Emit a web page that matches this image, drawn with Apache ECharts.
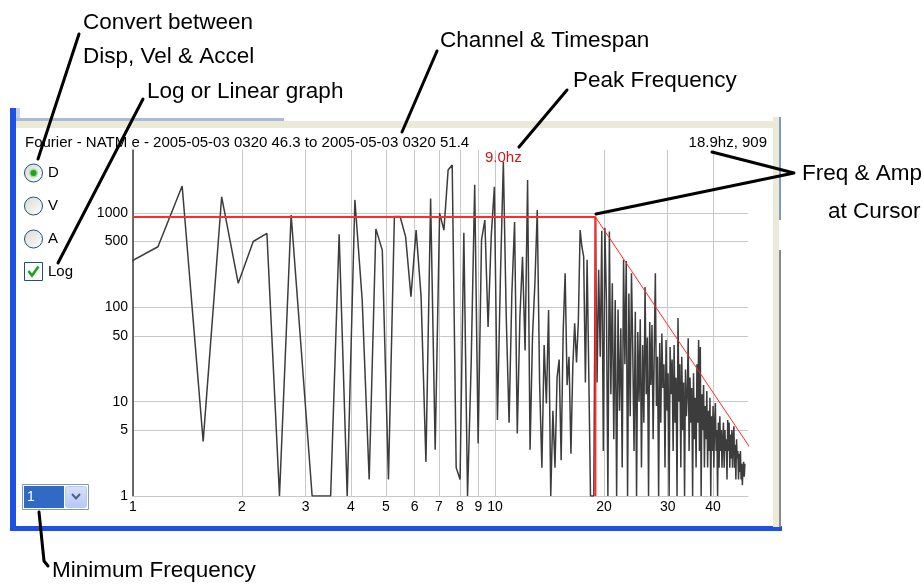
<!DOCTYPE html>
<html>
<head>
<meta charset="utf-8">
<script src="https://cdn.jsdelivr.net/npm/echarts@6/dist/echarts.min.js"></script>
<style>
  html, body { margin: 0; padding: 0; background: #fff; }
  #chart { width: 924px; height: 585px; }
</style>
</head>
<body>
<div id="chart"></div>
<script>
// spectrum bins: 5.12 s window -> 0.1953125 Hz per bin, first bin drawn is #5
const binWidth = 0.1953125;
const firstBin = 5;
const amplitudes = [
  300, 440, 1940, 3.8, 1490, 180, 500, 610, 1, 955,
  28, 1, 1, 1, 596, 1, 1380, 120, 1.5, 680,
  405, 1.5, 920, 920, 560, 130, 660, 130, 2.3, 1430,
  3.1, 1000, 660, 2860, 3240, 2, 1.5, 620, 1, 25,
  2000, 3.6, 520, 845, 62, 570, 1900, 6.4, 210, 3500,
  80, 6, 140, 805, 4.6, 80, 345, 35, 2240, 3.1,
  49, 180, 1080, 16, 2, 40, 9.6, 94, 1, 8,
  2, 18, 28, 2.4, 55, 230, 15, 30, 2.8, 24,
  68, 26, 70, 660, 440, 345, 16, 320, 19, 1,
  1, 1, 909,
  16, 250, 30, 650, 3, 700, 120, 1, 640, 12,
  180, 4, 120, 1, 95, 8, 60, 2, 320, 25,
  310, 1, 140, 7, 230, 35, 3, 90, 1, 55,
  10, 75, 2, 40, 6, 165, 12, 48, 1, 70,
  15, 65, 4, 35, 230, 9, 30, 1, 42, 6,
  53, 14, 25, 2, 45, 8, 20, 1, 38, 12,
  28, 3, 40, 6, 18, 1, 77, 10, 25, 2,
  30, 5, 16, 1, 22, 7, 12, 47, 3, 18,
  6, 14, 1, 20, 4, 11, 2, 25, 6, 45,
  3, 38, 1, 12, 5, 15, 2, 9, 4, 13,
  2, 8, 3, 11, 1, 7, 3, 9, 2, 6,
  9.7, 3, 5, 1, 6, 2, 7, 3, 5, 2,
  4, 6, 2, 5, 3, 4, 1.5, 6.4, 3, 6,
  2, 4.5, 2.5, 5, 2, 4, 5.5, 2, 3.5, 1.5,
  4, 2.5, 3, 1.5, 2.8, 1.8, 3, 1.5, 2.2, 1.3,
  2, 2.3, 1.6, 2.2
];
const xTicks = [1, 2, 3, 4, 5, 6, 7, 8, 9, 10, 20, 30, 40];
const yTicks = [1, 5, 10, 50, 100, 500, 1000];
const xMin = 1, xMax = 50;
const yMin = 1, yMax = 4670;

// cursor + roll-off line
const cursorFreq = 18.945;
const cursorAmp = 909;
const rolloffFreq = [18.945, 53.6];
const rolloffAmp = [909, 2.35];

const peakLabel = '9.0hz';
const titleText = 'Fourier - NATM e - 2005-05-03 0320 46.3 to 2005-05-03 0320 51.4';
const cursorText = cursorFreq.toFixed(1) + 'hz, ' + cursorAmp;

const lg = Math.log10;
const FONT = '"Liberation Sans", Arial, sans-serif';
const fmt = v => String(Math.round(Math.pow(10, v)));

const traceData = amplitudes.map((a, i) => [lg((firstBin + i) * binWidth), lg(a)]);
const cursorData = [[lg(xMin), lg(cursorAmp)], [lg(cursorFreq), lg(cursorAmp)], [lg(cursorFreq), lg(yMin)]];
const rolloffData = rolloffFreq.map((f, i) => [lg(f), lg(rolloffAmp[i])]);

function txt(x, y, text, size, extra) {
  return { type: 'text', x: x, y: y, z: 50,
    style: Object.assign({ text: text, fontSize: size, fontFamily: FONT, fill: '#000',
      align: 'left', verticalAlign: 'middle' }, extra || {}) };
}
function lead(pts) {
  return { type: 'polyline', z: 100, shape: { points: pts },
    style: { stroke: '#000', lineWidth: 3, lineCap: 'round', lineJoin: 'round', fill: null } };
}
function radio(cy, checked) {
  const els = [{ type: 'circle', z: 40, shape: { cx: 33.5, cy: cy, r: 9 },
    style: { stroke: '#1c5180', lineWidth: 1,
      fill: new echarts.graphic.LinearGradient(0, 0, 1, 1, [
        { offset: 0, color: '#d8d8d2' }, { offset: 1, color: '#ffffff' }]) } }];
  if (checked) {
    els.push({ type: 'circle', z: 41, shape: { cx: 33.5, cy: cy, r: 4.5 }, style: { fill: '#9ee09e' } });
    els.push({ type: 'circle', z: 42, shape: { cx: 33.5, cy: cy, r: 3 }, style: { fill: '#21a121' } });
  }
  return els;
}

const graphics = [
  // window frame
  { type: 'rect', z: 1, shape: { x: 10, y: 108, width: 6, height: 423 }, style: { fill: '#1f50e6' } },
  { type: 'rect', z: 1, shape: { x: 10, y: 526, width: 772, height: 5 }, style: { fill: '#1f50e6' } },
  { type: 'rect', z: 1, shape: { x: 16, y: 108, width: 4, height: 14 }, style: { fill: '#c9d2e2' } },
  { type: 'rect', z: 1, shape: { x: 16, y: 118, width: 268, height: 3 }, style: { fill: '#a9bcd6' } },
  { type: 'rect', z: 1, shape: { x: 16, y: 121, width: 760, height: 7 }, style: { fill: '#ece9d8' } },
  { type: 'rect', z: 1, shape: { x: 773, y: 117, width: 6, height: 410 }, style: { fill: '#ece9d8' } },
  { type: 'rect', z: 1, shape: { x: 779, y: 117, width: 2, height: 103 }, style: { fill: '#7f9db9' } },
  { type: 'rect', z: 1, shape: { x: 779, y: 250, width: 2, height: 277 }, style: { fill: '#8a8a8a' } },

  // texts inside the panel
  txt(25, 143, titleText, 15),
  txt(767, 143, cursorText, 15, { align: 'right' }),

  // D / V / A radios and Log checkbox
  ...radio(173, true), ...radio(206, false), ...radio(239, false),
  txt(48, 173, 'D', 15), txt(48, 206, 'V', 15), txt(48, 239, 'A', 15),
  { type: 'rect', z: 40, shape: { x: 24.5, y: 262.5, width: 18, height: 18 },
    style: { stroke: '#1c5180', lineWidth: 1, fill: '#fbfbf8' } },
  { type: 'polyline', z: 41, shape: { points: [[28.5, 271], [32, 275.5], [38.5, 266.5]] },
    style: { stroke: '#21a121', lineWidth: 2.6, fill: null } },
  txt(48, 272, 'Log', 15),

  // minimum frequency dropdown
  { type: 'rect', z: 40, shape: { x: 22.5, y: 484.5, width: 66, height: 25 },
    style: { stroke: '#7f9db9', lineWidth: 1, fill: '#fff' } },
  { type: 'rect', z: 41, shape: { x: 24, y: 486, width: 40, height: 22 }, style: { fill: '#316ac5' } },
  txt(27, 497, '1', 14, { fill: '#fff' }),
  { type: 'rect', z: 41, shape: { x: 65.5, y: 486.5, width: 21, height: 21, r: 2 },
    style: { stroke: '#b9cbf3', lineWidth: 1,
      fill: new echarts.graphic.LinearGradient(0, 0, 0, 1, [
        { offset: 0, color: '#d6e2fc' }, { offset: 1, color: '#b2c8f6' }]) } },
  { type: 'polyline', z: 42, shape: { points: [[72, 494], [76, 498.5], [80, 494]] },
    style: { stroke: '#4d6185', lineWidth: 2, fill: null } },

  // callouts
  txt(83, 23, 'Convert between', 22.5),
  txt(83, 57, 'Disp, Vel & Accel', 22.5),
  txt(147, 92, 'Log or Linear graph', 22.5),
  txt(440, 41, 'Channel & Timespan', 22.5),
  txt(573, 81, 'Peak Frequency', 22.5),
  txt(802, 174, 'Freq & Amp', 22.5),
  txt(828, 212, 'at Cursor', 22.5),
  txt(52, 571, 'Minimum Frequency', 22.5),
  lead([[79, 34], [38, 159]]),
  lead([[143, 99], [58, 263]]),
  lead([[437, 51], [402, 132]]),
  lead([[567, 90], [519, 147]]),
  lead([[712, 152], [794, 173], [596, 214]]),
  lead([[39, 512], [44, 561], [48, 566]])
];

const chart = echarts.init(document.getElementById('chart'));
chart.setOption({
  animation: false,
  backgroundColor: '#fff',
  grid: { left: 133, top: 150, width: 615, height: 346, containLabel: false },
  xAxis: {
    type: 'value', min: lg(xMin), max: lg(xMax),
    axisLine: { show: true, lineStyle: { color: '#c8c8c8', width: 1 } },
    axisTick: { show: false, customValues: xTicks.map(lg) },
    splitLine: { show: true, lineStyle: { color: '#c8c8c8', width: 1 } },
    axisLabel: { customValues: xTicks.map(lg), formatter: fmt, color: '#000',
      fontSize: 14, fontFamily: FONT, margin: 4 }
  },
  yAxis: {
    type: 'value', min: lg(yMin), max: lg(yMax),
    axisLine: { show: true, lineStyle: { color: '#404040', width: 1.5 } },
    axisTick: { show: false, customValues: yTicks.map(lg) },
    splitLine: { show: true, lineStyle: { color: '#c8c8c8', width: 1 } },
    axisLabel: { customValues: yTicks.map(lg), formatter: fmt, color: '#000',
      fontSize: 14, fontFamily: FONT, margin: 5 }
  },
  series: [
    {
      name: 'spectrum', type: 'line', data: traceData, showSymbol: false, clip: true, z: 2,
      lineStyle: { color: '#3c3c3c', width: 1.5 },
      markPoint: {
        symbol: 'rect', symbolSize: 1, itemStyle: { color: 'rgba(0,0,0,0)' },
        label: { show: true, position: 'inside', offset: [0, -4], formatter: peakLabel,
          color: '#cc1a1a', fontSize: 15, fontFamily: FONT },
        data: [{ type: 'max' }]
      }
    },
    {
      name: 'cursor', type: 'line', data: cursorData, showSymbol: false, z: 3,
      lineStyle: { color: '#ff2a2a', width: 2 }
    },
    {
      name: 'rolloff', type: 'line', data: rolloffData, showSymbol: false, clip: false, z: 3,
      lineStyle: { color: '#ff2a2a', width: 1 }
    }
  ],
  graphic: { elements: graphics }
});
</script>
</body>
</html>
